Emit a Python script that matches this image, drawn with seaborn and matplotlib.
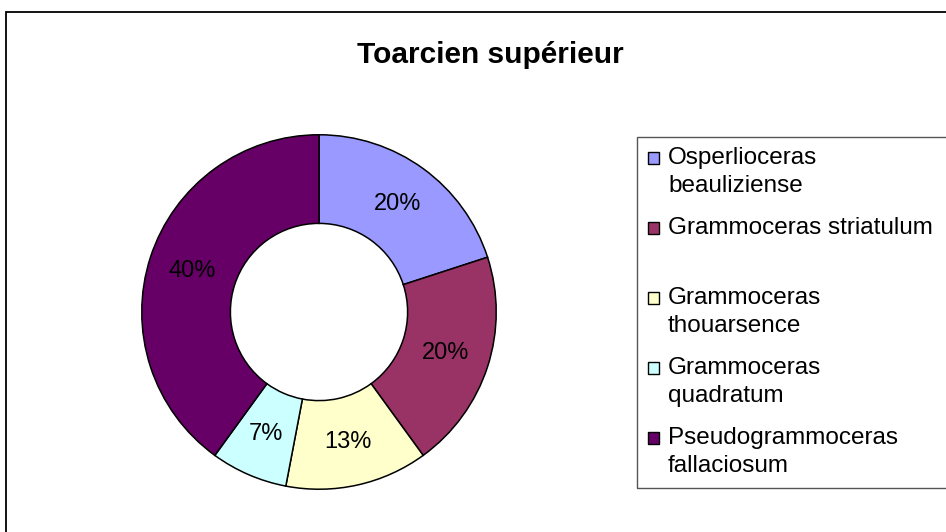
import numpy as np
import pandas as pd
import seaborn as sns
from matplotlib import pyplot as plt
from matplotlib.patches import Rectangle
import matplotlib

matplotlib.use('Agg')
sns.set_style("white")
plt.rcParams['font.family'] = ['Liberation Sans', 'DejaVu Sans']
plt.rcParams['text.color'] = 'black'

# data
species = ["Osperlioceras beauliziense", "Grammoceras striatulum",
           "Grammoceras thouarsence", "Grammoceras quadratum",
           "Pseudogrammoceras fallaciosum"]
legend_lines = [["Osperlioceras", "beauliziense"],
                ["Grammoceras striatulum"],
                ["Grammoceras", "thouarsence"],
                ["Grammoceras", "quadratum"],
                ["Pseudogrammoceras", "fallaciosum"]]
percent = [20, 20, 13, 7, 40]
palette = ["#9999FF", "#993366", "#FFFFCC", "#CCFFFF", "#660066"]

df = pd.DataFrame({"species": species, "percent": percent})

W, H = 946, 532
fig = plt.figure(figsize=(W / 100, H / 100), dpi=100)

# outer chart frame
fig.patches.append(Rectangle((5.5 / W, -0.1), 1.2, 1.1 - 11.5 / H,
                             transform=fig.transFigure, fill=False,
                             edgecolor="black", linewidth=1.3))

fig.text(490 / W, 1 - 55 / H, "Toarcien supérieur", ha="center", va="center",
         fontsize=21.5, fontweight="bold", color="black")

# donut
cx, cy, r = 319, 312, 179
ax = fig.add_axes([(cx - r) / W, 1 - (cy + r) / H, 2 * r / W, 2 * r / H])
wedges, texts, autotexts = ax.pie(df["percent"], colors=palette, startangle=90,
                                  counterclock=False, autopct="%.0f%%",
                                  pctdistance=0.75, radius=1,
                                  wedgeprops=dict(width=0.5, edgecolor="black",
                                                  linewidth=1.1),
                                  textprops=dict(fontsize=17, color="black"))
ax.set_xlim(-1.01, 1.01)
ax.set_ylim(-1.01, 1.01)
ax.set_aspect("equal")
ax.axis("off")

# legend box
fig.patches.append(Rectangle((636.5 / W, 1 - 488 / H), 0.5, (488 - 137) / H,
                             transform=fig.transFigure, fill=False,
                             edgecolor="#555555", linewidth=1.0))
for i, (lines, col) in enumerate(zip(legend_lines, palette)):
    y0 = 158 + 70 * i
    fig.patches.append(Rectangle((648 / W, 1 - (y0 + 6) / H), 11 / W, 12 / H,
                                 transform=fig.transFigure, facecolor=col,
                                 edgecolor="black", linewidth=1.0))
    for j, line in enumerate(lines):
        fig.text(668 / W, 1 - (y0 + 28 * j) / H, line, ha="left", va="center",
                 fontsize=17.5, color="black")

fig.savefig("out.png", dpi=100)
